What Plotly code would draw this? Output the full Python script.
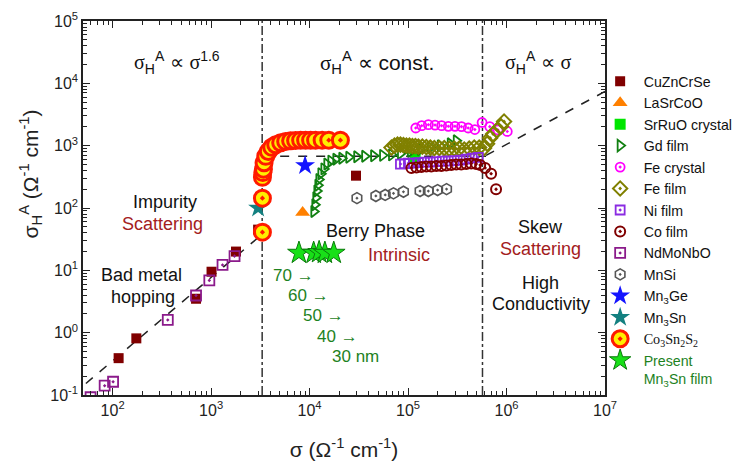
import plotly.graph_objects as go

# ---------------- data: sigma_xx (x) vs anomalous Hall conductivity (y) ----------------
cuzncrse_x = [115, 174, 703, 1010, 1790, 3000, 29600]
cuzncrse_y = [0.39, 0.81, 3.5, 9.5, 20, 45, 330]

lasrcoo_x = [8500]
lasrcoo_y = [85]

srruo_x = [118000]
srruo_y = [640]

gd_x = [11040, 11300, 11560, 11850, 12130, 12420, 13010, 13960, 14960, 16440, 18460,
        21220, 24990, 30090, 36240, 44670, 55080, 67920, 83750, 105700, 133300,
        168500, 212600, 268300, 308700]
gd_y = [88, 113, 146, 187, 231, 287, 355, 424, 507, 565, 607,
        629, 651, 663, 675, 687, 699, 712, 751, 807, 867,
        931, 1000, 1075, 1197]

fecrys_x = [119700, 137700, 160800, 187900, 219200, 256300, 299400, 349100, 408100,
            476700, 564700, 675800, 820000, 1018000]
fecrys_y = [1922, 2094, 2170, 2138, 2094, 2042, 2042, 2020, 1922,
            1815, 2355, 2020, 1790, 1690]

fefilm_x = [67900, 72800, 78100, 83700, 89800, 96300, 103300, 110700, 118800, 127400,
            139700, 153400, 168400, 184800, 207600, 233100, 262100, 294400, 330900,
            372000, 418000, 469700, 527600, 592000, 635000, 681000, 730000, 802000,
            880000, 944000]
fefilm_y = [931, 1000, 1038, 1038, 1018, 1000, 1000, 982, 982, 964,
            964, 948, 931, 914, 914, 914, 898, 898, 898,
            867, 898, 931, 931, 914, 1075, 1330, 1535, 1771,
            2042, 2442]

nifilm_x = [83700, 92000, 101000, 113300, 127400, 146500, 168400, 193700, 222600,
            256300, 294400, 338800, 389700, 448000, 515500]
nifilm_y = [507, 516, 526, 526, 535, 545, 545, 555, 565,
            565, 575, 585, 607, 629, 651]

cofilm_x = [108200, 121600, 136600, 153400, 172200, 193700, 217700, 244400, 274600,
            308500, 346800, 389700, 437600, 491900, 540100, 606600, 697000, 783000]
cofilm_y = [440, 448, 456, 464, 464, 472, 472, 481, 490,
            499, 499, 507, 516, 507, 490, 440, 355, 200]

ndmonbo_x = [59.7, 83, 101, 363, 703, 959, 1306, 1730]
ndmonbo_y = [0.092, 0.141, 0.163, 1.6, 3.95, 6.9, 12.2, 16.9]

mnsi_x = [30270, 47100, 58600, 71100, 89800, 132400, 160600, 199500, 246000]
mnsi_y = [144, 156, 162, 172, 182, 187, 187, 194, 201]

mn3ge_x = [9000]
mn3ge_y = [480]

mn3sn_x = [3000]
mn3sn_y = [100]

co3sn2s2_x = [3320, 3320, 3320, 3350, 3400, 3450, 3590, 3815, 4130, 4530, 5090, 5720,
              6420, 7210, 8110, 9110, 10240, 11500, 13410, 15670, 20560]
co3sn2s2_y = [41, 144, 311, 370, 420, 532, 675, 807, 942, 1038, 1115, 1168,
              1197, 1209, 1225, 1225, 1225, 1225, 1225, 1225, 1225]

film_x = [7800, 11000, 12500, 14300, 17600]
film_y = [19, 19, 19.5, 19, 19]

# ---------------- axis ticks ----------------
x_tickvals = [1e2, 1e3, 1e4, 1e5, 1e6, 1e7]
x_ticktext = ["10<sup>2</sup>", "10<sup>3</sup>", "10<sup>4</sup>",
              "10<sup>5</sup>", "10<sup>6</sup>", "10<sup>7</sup>"]
y_tickvals = [1e-1, 1e0, 1e1, 1e2, 1e3, 1e4, 1e5]
y_ticktext = ["10<sup>-1</sup>", "10<sup>0</sup>", "10<sup>1</sup>", "10<sup>2</sup>",
              "10<sup>3</sup>", "10<sup>4</sup>", "10<sup>5</sup>"]

# ---------------- guide lines ----------------
regime_bounds = [3300, 5.7e5]            # dash-dot regime boundaries
y_span = [0.1, 1e5]
low_line_x = [53.5, 3300]                 # sigma^1.6 trend
low_line_y = [0.153, 38]
flat_line_x = [3300, 6.2e5]               # constant regime
flat_line_y = [675, 675]
high_line_x = [6.2e5, 1e7]                # linear (skew) regime
high_line_y = [700, 7400]

SANS = "Arial, 'Liberation Sans', sans-serif"
SERIF = "Liberation Serif"
DARKRED = "#a3201d"
GREEN = "#1e821e"
INK = "#222222"

fig = go.Figure()

for bx in regime_bounds:
    fig.add_trace(go.Scatter(x=[bx, bx], y=y_span, mode="lines", showlegend=False,
                             hoverinfo="skip",
                             line=dict(color="#333333", width=1.5, dash="dashdot")))
for lx, ly in [(low_line_x, low_line_y), (flat_line_x, flat_line_y), (high_line_x, high_line_y)]:
    fig.add_trace(go.Scatter(x=lx, y=ly, mode="lines", showlegend=False, hoverinfo="skip",
                             line=dict(color=INK, width=1.5, dash="dash")))


def series(name, x, y, symbol, color, size, fill=None, lw=1.5):
    fig.add_trace(go.Scatter(
        x=x, y=y, mode="markers", name=name,
        marker=dict(symbol=symbol, size=size,
                    color=fill if fill is not None else color,
                    line=dict(color=color, width=lw))))


series("CuZnCrSe", cuzncrse_x, cuzncrse_y, "square", "#800000", 10, lw=0)
series("LaSrCoO", lasrcoo_x, lasrcoo_y, "triangle-up", "#ff8000", 13, lw=0)
series("SrRuO crystal", srruo_x, srruo_y, "square", "#00e600", 11, lw=0)
series("Gd film", gd_x, gd_y, "triangle-right-open", "#118011", 10, lw=1.8)
series("Fe crystal", fecrys_x, fecrys_y, "circle-open-dot", "#ff00ff", 9, lw=1.8)
series("Fe film", fefilm_x, fefilm_y, "diamond-open-dot", "#808000", 11, lw=2)
series("Ni film", nifilm_x, nifilm_y, "square-open-dot", "#8a2be2", 9, lw=1.8)
series("Co film", cofilm_x, cofilm_y, "circle-open-dot", "#800000", 10, lw=2)
series("NdMoNbO", ndmonbo_x, ndmonbo_y, "square-open-dot", "#8b1a8b", 10, lw=1.8)
series("MnSi", mnsi_x, mnsi_y, "hexagon-open-dot", "#555555", 11, lw=1.6)
series("Mn<sub>3</sub>Ge", mn3ge_x, mn3ge_y, "star", "#1414ff", 15, lw=0)
series("Mn<sub>3</sub>Sn", mn3sn_x, mn3sn_y, "star", "#138080", 15, lw=0)
series("<span style='font-family:" + SERIF + "'>Co<sub>3</sub>Sn<sub>2</sub>S<sub>2</sub></span>",
       co3sn2s2_x, co3sn2s2_y, "circle-dot", "#ff1a00", 16, fill="#ffee00", lw=3)
series("<span style='color:" + GREEN + "'>Present</span><br>"
       "<span style='color:" + GREEN + "'>Mn<sub>3</sub>Sn film</span>",
       film_x, film_y, "star", "#0b7a0b", 17, fill="#18e018", lw=1)

# ---------------- text labels ----------------
def label(text, lx, ly, size=18, color="#111111", xanchor="center", family=SANS):
    fig.add_annotation(x=lx, y=ly, xref="x", yref="y", text=text, showarrow=False,
                       xanchor=xanchor, yanchor="middle",
                       font=dict(size=size, color=color, family=family))


sig = "<span style='font-family:" + SERIF + "'>σ</span>"
label(sig + "<sub>H</sub><sup>A</sup> ∝ " + sig + "<sup>1.6</sup>", 2.658, 4.333, size=20)
label(sig + "<sub>H</sub><sup>A</sup> ∝ const.", 4.68, 4.333, size=21)
label(sig + "<sub>H</sub><sup>A</sup> ∝ " + sig, 6.318, 4.333, size=20)

label("Impurity", 2.527, 2.101)
label("Scattering", 2.507, 1.744, color=DARKRED)
label("Bad metal", 2.293, 0.922)
label("hopping", 2.304, 0.566)
label("Berry Phase", 4.67, 1.636)
label("Intrinsic", 4.903, 1.248, color=DARKRED)
label("70 →", 3.609, 0.922, size=17, color=GREEN, xanchor="left")
label("60 →", 3.760, 0.597, size=17, color=GREEN, xanchor="left")
label("50 →", 3.912, 0.271, size=17, color=GREEN, xanchor="left")
label("40 →", 4.054, -0.054, size=17, color=GREEN, xanchor="left")
label("30 nm", 4.205, -0.380, size=17, color=GREEN, xanchor="left")
label("Skew", 6.349, 1.698)
label("Scattering", 6.349, 1.341, color=DARKRED)
label("High", 6.349, 0.790)
label("Conductivity", 6.349, 0.455)

# y-axis title, placed as a rotated annotation
fig.add_annotation(x=-0.10, y=0.592, xref="paper", yref="paper", showarrow=False,
                   textangle=-90, xanchor="center", yanchor="middle",
                   text="σ<sub>H</sub><sup>A</sup> (Ω<sup>-1</sup> cm<sup>-1</sup>)",
                   font=dict(size=21, family=SANS, color=INK))

axis_common = dict(
    type="log", tickmode="array",
    showgrid=False, zeroline=False, showline=True, linecolor=INK, linewidth=1.5,
    mirror="allticks", ticks="inside", ticklen=7, tickwidth=1.2, tickcolor=INK,
    ticklabeloverflow="allow",
    minor=dict(dtick="D1", ticks="inside", ticklen=4, tickwidth=1, tickcolor=INK,
               showgrid=False),
    tickfont=dict(size=16, family=SANS, color=INK),
)

fig.update_xaxes(**axis_common, range=[1.699, 7],
                 tickvals=x_tickvals, ticktext=x_ticktext,
                 title=dict(text="σ (Ω<sup>-1</sup> cm<sup>-1</sup>)",
                            font=dict(size=21, family=SANS, color=INK), standoff=24))
fig.update_yaxes(**axis_common, range=[-1, 5],
                 tickvals=y_tickvals, ticktext=y_ticktext)

fig.update_layout(
    width=748, height=468,
    margin=dict(l=83, r=141, t=10, b=71),
    paper_bgcolor="white", plot_bgcolor="white",
    font=dict(family=SANS, color="#111111"),
    legend=dict(x=0.984, y=0.881, xanchor="left", yanchor="top",
                font=dict(size=14.2, family=SANS, color="#111111"),
                bgcolor="rgba(0,0,0,0)", valign="top", tracegroupgap=0,
                itemwidth=37),
)

fig.write_html("out.html")
